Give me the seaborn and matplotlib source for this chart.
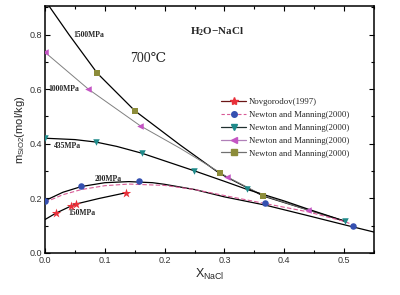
import matplotlib
matplotlib.use("Agg")
import matplotlib.pyplot as plt
from matplotlib.lines import Line2D
from matplotlib.ticker import MultipleLocator
import seaborn as sns

# marker data (X_NaCl, m_SiO2)
nov_x = [0.018, 0.043, 0.052, 0.135]
nov_y = [0.145, 0.171, 0.179, 0.220]
p200_x = [0.0, 0.061, 0.157, 0.367, 0.515]
p200_y = [0.191, 0.244, 0.263, 0.181, 0.099]
p435_x = [0.0, 0.085, 0.162, 0.249, 0.337, 0.502]
p435_y = [0.420, 0.407, 0.365, 0.301, 0.233, 0.116]
p1000_x = [0.0, 0.0725, 0.159, 0.304, 0.439]
p1000_y = [0.735, 0.600, 0.466, 0.279, 0.157]
p1500_x = [0.0875, 0.150, 0.292, 0.365]
p1500_y = [0.658, 0.521, 0.291, 0.209]

# fitted curves
c150_x = [0.0, 0.018, 0.043, 0.052, 0.09, 0.135]
c150_y = [0.122, 0.145, 0.171, 0.179, 0.199, 0.220]
c200_x = [0.0, 0.03, 0.061, 0.10, 0.14, 0.18, 0.20, 0.25, 0.30, 0.368, 0.44, 0.50, 0.552]
c200_y = [0.191, 0.222, 0.243, 0.257, 0.261, 0.257, 0.251, 0.232, 0.205, 0.175, 0.136, 0.103, 0.075]
d200_x = [0.0, 0.03, 0.061, 0.10, 0.14, 0.20, 0.25, 0.30, 0.367, 0.44, 0.502, 0.515]
d200_y = [0.185, 0.213, 0.232, 0.246, 0.252, 0.247, 0.232, 0.210, 0.181, 0.150, 0.114, 0.102]
c435_x = [0.0, 0.05, 0.085, 0.12, 0.162, 0.20, 0.249, 0.30, 0.337, 0.40, 0.44, 0.504]
c435_y = [0.420, 0.415, 0.406, 0.390, 0.365, 0.337, 0.301, 0.262, 0.233, 0.190, 0.160, 0.114]
c1000_x = [0.0, 0.0725, 0.159, 0.226, 0.304, 0.365, 0.44, 0.504]
c1000_y = [0.735, 0.600, 0.466, 0.383, 0.279, 0.210, 0.157, 0.114]
c1500_x = [0.005, 0.04, 0.0875, 0.15, 0.226, 0.292, 0.365, 0.44, 0.504]
c1500_y = [0.910, 0.800, 0.658, 0.521, 0.395, 0.291, 0.208, 0.157, 0.114]

legend_labels = ["Novgorodov(1997)", "Newton and Manning(2000)", "Newton and Manning(2000)",
                 "Newton and Manning(2000)", "Newton and Manning(2000)"]
curve_labels = ["1500MPa", "1000MPa", "435MPa", "200MPa", "150MPa"]

RED = "#e8303a"
BLUE = "#3550b0"
TEAL = "#1f8a8a"
MAGENTA = "#c455c4"
OLIVE = "#8c8c3a"
PINK = "#d85a96"

sns.set_theme(style="ticks")
plt.rcParams["font.family"] = ["Liberation Sans", "DejaVu Sans"]
serif = ["Liberation Serif", "DejaVu Serif", "DejaVu Sans"]

fig = plt.figure(figsize=(4.0, 2.95), dpi=100)
ax = fig.add_axes([0.1125, 0.143, 0.8225, 0.837])

lw = 0.9
sns.lineplot(x=c1500_x, y=c1500_y, ax=ax, color="black", lw=lw)
sns.lineplot(x=c1000_x, y=c1000_y, ax=ax, color="#808080", lw=0.7)
sns.lineplot(x=c435_x, y=c435_y, ax=ax, color="black", lw=lw)
sns.lineplot(x=c200_x, y=c200_y, ax=ax, color="black", lw=lw)
sns.lineplot(x=d200_x, y=d200_y, ax=ax, color=PINK, lw=0.8, linestyle=(0, (4, 2)))
sns.lineplot(x=c150_x, y=c150_y, ax=ax, color="black", lw=lw)

ms = 22
sns.scatterplot(x=nov_x, y=nov_y, ax=ax, marker="*", color=RED, s=50, linewidth=0, zorder=5)
sns.scatterplot(x=p200_x, y=p200_y, ax=ax, marker="o", color=BLUE, s=ms, linewidth=0, zorder=5)
sns.scatterplot(x=p435_x, y=p435_y, ax=ax, marker="v", color=TEAL, s=ms, linewidth=0, zorder=5)
sns.scatterplot(x=p1000_x, y=p1000_y, ax=ax, marker="<", color=MAGENTA, s=ms, linewidth=0, zorder=5)
sns.scatterplot(x=p1500_x, y=p1500_y, ax=ax, marker="s", color=OLIVE, s=ms, linewidth=0, zorder=5)

ax.set_xlim(0, 0.55)
ax.set_ylim(0, 0.905)
ax.xaxis.set_major_locator(MultipleLocator(0.1))
ax.xaxis.set_minor_locator(MultipleLocator(0.05))
ax.yaxis.set_major_locator(MultipleLocator(0.2))
ax.yaxis.set_minor_locator(MultipleLocator(0.1))
ax.tick_params(which="both", direction="in", top=True, right=True, labelsize=6.5,
               width=0.8, color="black", labelcolor="#333333", pad=2)
ax.tick_params(which="major", length=3.5)
ax.tick_params(which="minor", length=2)
for sp in ax.spines.values():
    sp.set_linewidth(1.1)
    sp.set_color("black")
ax.set_xlabel(r"X$_\mathregular{NaCl}$", fontsize=9, labelpad=2)
ax.set_ylabel(r"m$_\mathregular{SiO2}$(mol/kg)", fontsize=8, labelpad=2)

# curve labels
label_pos = [(0.074, 0.80), (0.032, 0.601), (0.038, 0.392), (0.106, 0.270), (0.061, 0.145)]
for (lx, ly), txt in zip(label_pos, curve_labels):
    ax.text(lx, ly, txt, fontsize=5.5, fontweight="bold", family=serif,
            ha="center", va="center")
ax.text(0.173, 0.714, "700℃", fontsize=10, family=serif, ha="center", va="center")
ax.text(0.288, 0.809, r"H$_\mathregular{2}$O−NaCl", fontsize=8, fontweight="bold",
        family=serif, ha="center", va="center")

handles = [
    Line2D([], [], color="#6a1515", lw=0.9, marker="*", markersize=6,
           markerfacecolor=RED, markeredgecolor=RED),
    Line2D([], [], color=PINK, lw=0.8, linestyle=(0, (3, 2)), marker="o", markersize=4,
           markerfacecolor=BLUE, markeredgecolor=BLUE),
    Line2D([], [], color="#203030", lw=0.9, marker="v", markersize=4.5,
           markerfacecolor=TEAL, markeredgecolor=TEAL),
    Line2D([], [], color="#b080b8", lw=0.9, marker="<", markersize=4.5,
           markerfacecolor=MAGENTA, markeredgecolor=MAGENTA),
    Line2D([], [], color="#707070", lw=0.9, marker="s", markersize=4,
           markerfacecolor=OLIVE, markeredgecolor=OLIVE),
]
leg = ax.legend(handles, legend_labels, loc="upper left", bbox_to_anchor=(0.535, 0.627),
                frameon=False, borderpad=0, borderaxespad=0, handlelength=2.9,
                handletextpad=0.25, labelspacing=0.54,
                prop={"family": serif, "size": 6.3})

fig.savefig("out.png", dpi=100, facecolor="white")
